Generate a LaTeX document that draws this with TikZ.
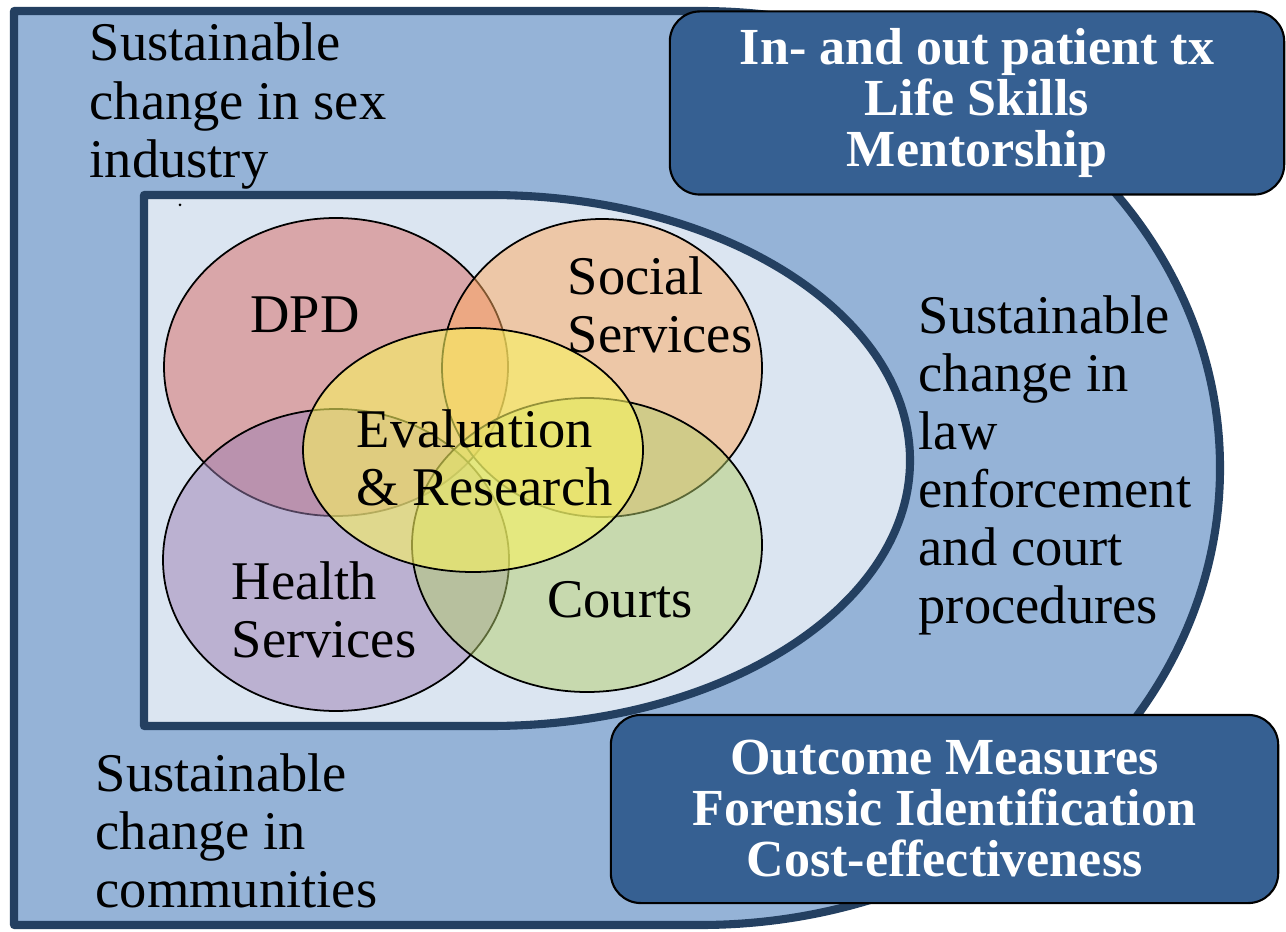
\documentclass[tikz,border=0pt]{standalone}
\usepackage{fontspec}
\setmainfont{Liberation Serif}
\usepackage{tikz}
\usepackage{xcolor}

\definecolor{outerblue}{RGB}{149,179,215}
\definecolor{innerblue}{RGB}{219,229,241}
\definecolor{edgeblue}{RGB}{36,64,97}
\definecolor{boxblue}{RGB}{54,96,146}
\definecolor{dpdred}{RGB}{217,105,99}
\definecolor{socialorange}{RGB}{255,171,95}
\definecolor{healthpurple}{RGB}{157,127,179}
\definecolor{courtsgreen}{RGB}{181,207,109}
\definecolor{evalyellow}{RGB}{248,243,96}

\begin{document}
\begin{tikzpicture}[x=0.01cm,y=-0.01cm,
            region/.style={draw=edgeblue,line width=2.3pt,line join=round},
            venn/.style={draw=black,line width=0.5pt,fill opacity=0.5},
            side/.style={align=left,anchor=west,inner sep=0pt,font=\fontsize{15.5}{16.5}\selectfont},
            tag/.style={align=left,inner sep=0pt,font=\fontsize{15.5}{16.5}\selectfont},
            panel/.style={draw=black,line width=0.6pt,fill=boxblue,rounded corners=0.3cm,text=white,align=center,inner sep=0pt,font=\bfseries\fontsize{14.8}{14.5}\selectfont}]

            \useasboundingbox (0,0) rectangle (1286,931);
            \fill[white] (0,0) rectangle (1286,931);

            \filldraw[region,fill=outerblue] (14,11) -- (700,11) arc[start angle=-90,end angle=90,x radius=520,y radius=457] -- (14,925) -- cycle;
            \filldraw[region,fill=innerblue] (144,195) -- (490,195) arc[start angle=-90,end angle=90,x radius=420,y radius=265.5] -- (144,726) -- cycle;
            \fill (180,205) circle[radius=1.5];

            \filldraw[venn,fill=dpdred] (336,367) ellipse[x radius=172,y radius=149];
            \filldraw[venn,fill=socialorange] (602,368) ellipse[x radius=160,y radius=149];
            \filldraw[venn,fill=healthpurple] (336,560) ellipse[x radius=173,y radius=151];
            \filldraw[venn,fill=courtsgreen] (587,545) ellipse[x radius=175,y radius=147];
            \filldraw[venn,fill=evalyellow,fill opacity=0.6] (473,450) ellipse[x radius=170,y radius=122];

            \node[tag] (dpd) at (305,315) {DPD};
            \node[tag,anchor=west] (social) at (567,305) {Social\\Services};
            \node[tag,anchor=west] (eval) at (356,458) {Evaluation\\\& Research};
            \node[tag,anchor=west] (health) at (231,610) {Health\\Services};
            \node[tag] (courts) at (620,600) {Courts};

            \node[side] (sexind) at (89,106) {Sustainable\\change in sex\\industry};
            \node[side] (lawenf) at (918,465) {Sustainable\\change in\\law\\enforcement\\and court\\procedures};
            \node[side] (commun) at (95,831) {Sustainable\\change in\\communities};

            \node[panel,minimum width=6.14cm,minimum height=1.83cm] (treat) at (977,103) {In- and out patient tx\\Life Skills\\Mentorship};
            \node[panel,minimum width=6.67cm,minimum height=1.88cm] (measure) at (944.5,809) {Outcome Measures\\Forensic Identification\\Cost-effectiveness};
         \end{tikzpicture}
\end{document}
